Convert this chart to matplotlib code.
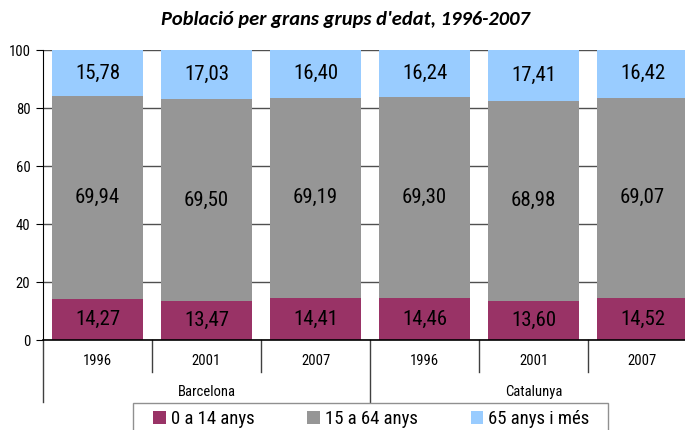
import matplotlib
matplotlib.use("Agg")
import matplotlib.pyplot as plt
import matplotlib.transforms as mtransforms
from matplotlib.patches import Patch, Rectangle

years = ["1996", "2001", "2007", "1996", "2001", "2007"]
groups = ["Barcelona", "Catalunya"]
age_0_14 = [14.27, 13.47, 14.41, 14.46, 13.60, 14.52]
age_15_64 = [69.94, 69.50, 69.19, 69.30, 68.98, 69.07]
age_65 = [15.78, 17.03, 16.40, 16.24, 17.41, 16.42]
series_names = ["0 a 14 anys", "15 a 64 anys", "65 anys i més"]
colors = ["#993366", "#969696", "#99CCFF"]

fam = ["Roboto Condensed", "DejaVu Sans"]

fig = plt.figure(figsize=(6.85, 4.3), dpi=100)
ax = fig.add_axes([43/685, 90/430, 654/685, 290/430])

x = list(range(len(years)))
w = 0.835
bottoms = [0]*len(x)
for vals, c in zip([age_0_14, age_15_64, age_65], colors):
    ax.bar(x, vals, w, bottom=bottoms, color=c, zorder=2)
    for xi, v, b in zip(x, vals, bottoms):
        ax.text(xi, b + v/2, f"{v:.2f}".replace(".", ","), ha="center", va="center",
                fontsize=15, family=fam, color="black", zorder=3)
    bottoms = [b + v for b, v in zip(bottoms, vals)]

ax.set_xlim(-0.5, 5.5)
ax.set_ylim(0, 100)
ax.set_yticks([0, 20, 40, 60, 80, 100])
ax.yaxis.grid(True, color="#505050", linewidth=1, zorder=0)
ax.set_axisbelow(True)
for s in ["top", "right"]:
    ax.spines[s].set_visible(False)
ax.spines["left"].set_color("black")
ax.spines["bottom"].set_color("black")
ax.spines["bottom"].set_linewidth(1.2)
ax.set_xticks([])
ax.tick_params(axis="y", length=5, direction="out", labelsize=10.5, pad=4)
for lab in ax.get_yticklabels():
    lab.set_family(fam)

trans = mtransforms.blended_transform_factory(ax.transData, ax.transAxes)
for xb in [0.5, 1.5, 3.5, 4.5]:
    ax.plot([xb, xb], [0, -0.11], color="#404040", lw=1, transform=trans, clip_on=False)
for xb in [-0.5, 2.5, 5.5]:
    ax.plot([xb, xb], [0, -0.215], color="#404040", lw=1, transform=trans, clip_on=False)
for xi, yr in zip(x, years):
    ax.text(xi, -0.072, yr, ha="center", va="center", fontsize=10.5, family=fam, transform=trans)
for gi, g in enumerate(groups):
    ax.text(gi*3 + 1, -0.179, g, ha="center", va="center", fontsize=10.5, family=fam, transform=trans)

fig.text(345/685, 1 - 20/430, "Població per grans grups d'edat, 1996-2007", ha="center", va="center",
         fontsize=14.8, fontweight="bold", fontstyle="italic", family=["Carlito", "DejaVu Sans"])

# legend frame (extends past the bottom edge as in the reference)
fig.add_artist(Rectangle((133/685, -0.05), (608-133)/685, 0.05 + (430-403)/430,
                         transform=fig.transFigure, facecolor="white", edgecolor="#909090",
                         linewidth=1, zorder=1))
handles = [Patch(facecolor=c, edgecolor="none") for c in colors]
leg = fig.legend(handles, series_names, loc="center", bbox_to_anchor=(371.5/685, 1 - 419/430),
                 borderaxespad=0, ncol=3, frameon=False,
                 handlelength=0.65, handleheight=0.65, handletextpad=0.3, columnspacing=2.8,
                 borderpad=0, prop={"family": fam, "size": 13.5})
leg.set_zorder(2)

fig.savefig("out.png", dpi=100)
